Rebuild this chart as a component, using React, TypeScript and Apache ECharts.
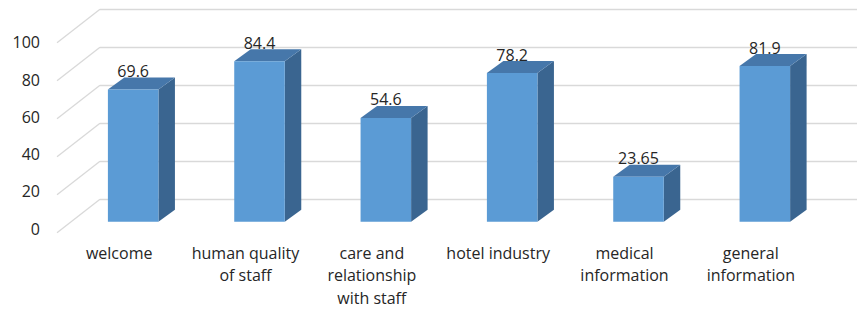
import React, { useEffect, useRef } from "react";
import * as echarts from "echarts";

const categories = [
  "welcome",
  "human quality\nof staff",
  "care and\nrelationship\nwith staff",
  "hotel industry",
  "medical\ninformation",
  "general\ninformation",
];
const values = [69.6, 84.4, 54.6, 78.2, 23.65, 81.9];
const gridLevels = [0, 20, 40, 60, 80, 100];

const FONT = "Open Sans";
const TEXT = "#262626";
const GRID_LINE = "#d9d9d9";
const FRONT = "#5b9bd5";
const TOP = "#4677aa";
const SIDE = "#3a6590";

export default function App() {
  const ref = useRef<HTMLDivElement>(null);
  useEffect(() => {
    document.body.style.margin = "0";
    const chart = echarts.init(ref.current!, null, { renderer: "svg" });
    const W = 758;
    const option: any = {
      animation: false,
      backgroundColor: "#ffffff",
      grid: [
        // bar front-face plane
        { left: 70, top: 31.7, height: 190, width: W },
        // back wall
        { left: 100, top: 9.3, height: 190, width: 757 },
        // front plane (axis labels)
        { left: 56, top: 42.3, height: 190, width: W },
      ],
      xAxis: [
        { type: "category", gridIndex: 0, data: categories, show: false },
        { type: "value", gridIndex: 1, min: 0, max: 1, show: false },
        {
          type: "category",
          gridIndex: 2,
          data: categories,
          axisLine: { show: false },
          axisTick: { show: false },
          axisLabel: {
            interval: 0,
            margin: 13,
            fontFamily: FONT,
            fontSize: 16,
            lineHeight: 22.5,
            color: TEXT,
            align: "center",
          },
        },
      ],
      yAxis: [
        { type: "value", gridIndex: 0, min: 0, max: 100, interval: 20, show: false },
        {
          type: "value",
          gridIndex: 1,
          min: 0,
          max: 100,
          interval: 20,
          axisLine: { show: false },
          axisTick: { show: false },
          axisLabel: { show: false },
          splitLine: { show: true, lineStyle: { color: GRID_LINE, width: 1.3 } },
        },
        {
          type: "value",
          gridIndex: 2,
          min: 0,
          max: 100,
          interval: 20,
          axisLine: { show: false },
          axisTick: { show: false },
          splitLine: { show: false },
          axisLabel: { margin: 16, fontFamily: FONT, fontSize: 16, color: TEXT },
        },
      ],
      series: [
        {
          type: "custom",
          xAxisIndex: 1,
          yAxisIndex: 1,
          z: 1,
          data: gridLevels.map((v) => [0, v]),
          renderItem: (params: any, api: any) => {
            const p = api.coord([0, api.value(1)]);
            return {
              type: "line",
              shape: { x1: p[0], y1: p[1], x2: p[0] - 43, y2: p[1] + 33.5 },
              style: { stroke: GRID_LINE, lineWidth: 1.3 },
            };
          },
        },
        {
          type: "custom",
          xAxisIndex: 0,
          yAxisIndex: 0,
          z: 5,
          data: values.map((v, i) => [i, v]),
          renderItem: (params: any, api: any) => {
            const idx = api.value(0);
            const v = api.value(1);
            const base = api.coord([idx, 0]);
            const topP = api.coord([idx, v]);
            const bw = api.size([1, 0])[0] * 0.4;
            const l = base[0] - bw / 2;
            const r = base[0] + bw / 2;
            const t = topP[1];
            const b = base[1];
            const dx = 16.5;
            const dy = -12;
            return {
              type: "group",
              children: [
                {
                  type: "polygon",
                  shape: { points: [[r, t], [r + dx, t + dy], [r + dx, b + dy], [r, b]] },
                  style: { fill: SIDE },
                },
                {
                  type: "polygon",
                  shape: { points: [[l, t], [r, t], [r + dx, t + dy], [l + dx, t + dy]] },
                  style: { fill: TOP },
                },
                {
                  type: "rect",
                  shape: { x: l, y: t, width: bw, height: b - t },
                  style: { fill: FRONT },
                },
                {
                  type: "text",
                  x: base[0],
                  y: t - 18.5,
                  style: {
                    text: String(v),
                    fontFamily: FONT,
                    fontSize: 16,
                    fill: TEXT,
                    align: "center",
                    verticalAlign: "middle",
                  },
                },
              ],
            };
          },
        },
      ],
    };
    chart.setOption(option);
    return () => chart.dispose();
  }, []);
  return <div ref={ref} style={{ width: 857, height: 309 }} />;
}
